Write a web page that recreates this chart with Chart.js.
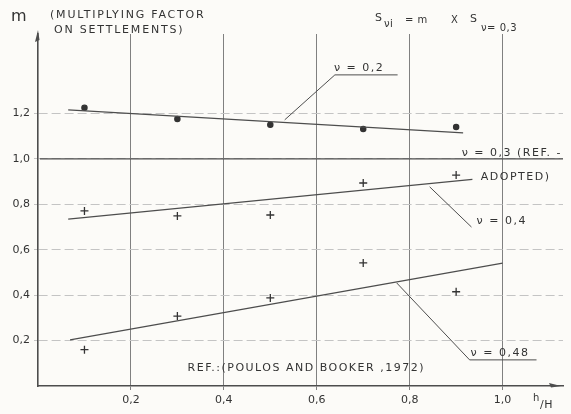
<!DOCTYPE html>
<html lang="en">
<head>
<meta charset="UTF-8">
<title>Multiplying factor on settlements</title>
<script src="https://cdn.jsdelivr.net/npm/chart.js"></script>
<style>
  html, body { margin: 0; padding: 0; background: #fcfbf8; }
  #wrap { width: 571px; height: 414px; position: relative; }
</style>
</head>
<body>
<div id="wrap"><canvas id="chart"></canvas></div>
<script>
// h/H of the computed points
const hOverH = [0.1, 0.3, 0.5, 0.7, 0.9];
// m for each Poisson's ratio
const m02  = [1.225, 1.176, 1.15, 1.132, 1.141];
const m04  = [0.771, 0.749, 0.753, 0.894, 0.929];
const m048 = [0.16, 0.308, 0.388, 0.542, 0.415];
// fitted straight lines: end points (h/H, m)
const fit02H  = [0.065, 0.915], fit02M  = [1.216, 1.115];
const fit04H  = [0.065, 0.935], fit04M  = [0.735, 0.91];
const fit048H = [0.069, 1.0],   fit048M = [0.203, 0.541];
// nu = 0,3 is the reference case, m = 1
const refH = [0.004, 1.13], refM = [1.0, 1.0];
const xTicks = [0.2, 0.4, 0.6, 0.8, 1.0];
const yTicks = [0.2, 0.4, 0.6, 0.8, 1.0, 1.2];

const INK = '#333';
const LINE = '#4d4d4d';
const FONT = '"DejaVu Sans", sans-serif';

const pts = (xs, ys) => xs.map((v, i) => ({ x: v, y: ys[i] }));

// leader lines from the curve labels to their curves
const leaders = [
  { h: [0.531, 0.639, 0.774], m: [1.172, 1.37, 1.37] },
  { h: [0.843, 0.933], m: [0.877, 0.70] },
  { h: [0.772, 0.929, 1.073], m: [0.454, 0.115, 0.115] }
];

// labels inside the plot, anchored in (h/H, m)
const plotLabels = [
  { text: 'ν = 0,2', h: 0.637, m: 1.40 },
  { text: 'ν = 0,3 (REF. -', h: 0.912, m: 1.026 },
  { text: 'ADOPTED)', h: 0.953, m: 0.921 },
  { text: 'ν = 0,4', h: 0.944, m: 0.727 },
  { text: 'ν = 0,48', h: 0.931, m: 0.143 },
  { text: 'REF.:(POULOS AND BOOKER ,1972)', h: 0.322, m: 0.079 }
];

const lineSet = (data, width) => ({
  data, showLine: true, pointRadius: 0, borderColor: LINE,
  borderWidth: width || 1.2, fill: false
});

const pointSet = (data, style) => ({
  data, showLine: false, pointStyle: style,
  pointRadius: style === 'cross' ? 4 : 2.6,
  pointBorderColor: '#333', pointBackgroundColor: '#333', pointBorderWidth: 1.3
});

const datasets = [
  lineSet(pts(refH, refM), 1.3),
  lineSet(pts(fit02H, fit02M)),
  lineSet(pts(fit04H, fit04M)),
  lineSet(pts(fit048H, fit048M)),
  pointSet(pts(hOverH, m02), 'circle'),
  pointSet(pts(hOverH, m04), 'cross'),
  pointSet(pts(hOverH, m048), 'cross')
];
leaders.forEach(l => datasets.push(lineSet(pts(l.h, l.m), 1)));

const inkPlugin = {
  id: 'ink',
  afterDraw(chart) {
    const { ctx, chartArea, scales: { x, y } } = chart;
    ctx.save();
    ctx.fillStyle = INK;
    ctx.textBaseline = 'middle';
    ctx.letterSpacing = '1.5px';
    ctx.font = '11px ' + FONT;
    plotLabels.forEach(l => {
      ctx.fillText(l.text, x.getPixelForValue(l.h), y.getPixelForValue(l.m));
    });

    // axis title
    ctx.font = '16px ' + FONT;
    ctx.letterSpacing = '0px';
    ctx.fillText('m', 11, 17);
    ctx.font = '11px ' + FONT;
    ctx.letterSpacing = '1.8px';
    ctx.fillText('(MULTIPLYING FACTOR', 50, 15);
    ctx.fillText('ON SETTLEMENTS)', 54, 30);

    // S_nu_i = m X S_nu=0,3
    ctx.letterSpacing = '0.5px';
    ctx.font = '11px ' + FONT;
    ctx.fillText('S', 375, 18);
    ctx.font = '10px ' + FONT;
    ctx.fillText('νi', 384, 24);
    ctx.font = '10px ' + FONT;
    ctx.fillText('= m', 405, 20);
    ctx.fillText('X', 451, 20);
    ctx.font = '11px ' + FONT;
    ctx.fillText('S', 470, 19);
    ctx.font = '10px ' + FONT;
    ctx.fillText('ν= 0,3', 481, 28);

    // h/H under the end of the x axis
    ctx.font = '10px ' + FONT;
    ctx.fillText('h', 533, 398);
    ctx.font = '11px ' + FONT;
    ctx.fillText('/H', 540, 405);

    // arrow heads on the axes
    ctx.fillStyle = LINE;
    const l = chartArea.left, t = chartArea.top;
    ctx.beginPath();
    ctx.moveTo(l, t - 4); ctx.lineTo(l - 3, t + 8); ctx.lineTo(l + 1.5, t + 6);
    ctx.closePath(); ctx.fill();
    const r = chartArea.right - 8, b = chartArea.bottom;
    ctx.beginPath();
    ctx.moveTo(r + 6, b); ctx.lineTo(r - 6, b - 3); ctx.lineTo(r - 4, b + 1.5);
    ctx.closePath(); ctx.fill();
    ctx.restore();
  }
};

new Chart(document.getElementById('chart'), {
  type: 'scatter',
  data: { datasets },
  plugins: [inkPlugin],
  options: {
    responsive: true,
    maintainAspectRatio: false,
    animation: false,
    layout: { padding: { top: 34, right: 8, left: 0, bottom: 0 } },
    plugins: { legend: { display: false }, tooltip: { enabled: false } },
    scales: {
      x: {
        type: 'linear', min: 0, max: 1.13,
        afterBuildTicks: s => { s.ticks = xTicks.map(v => ({ value: v })); },
        afterFit: s => { s.height = 28; },
        ticks: {
          color: INK, padding: 4, maxRotation: 0,
          font: { family: FONT, size: 11 },
          callback: v => v.toFixed(1).replace('.', ',')
        },
        grid: { color: '#808080', lineWidth: 1, tickLength: 4 },
        border: { display: true, color: LINE, width: 1.6 }
      },
      y: {
        type: 'linear', min: 0, max: 1.55,
        afterBuildTicks: s => { s.ticks = yTicks.map(v => ({ value: v })); },
        afterFit: s => { s.width = 38; },
        ticks: {
          color: INK, padding: 4,
          font: { family: FONT, size: 11 },
          callback: v => v.toFixed(1).replace('.', ',')
        },
        grid: { color: '#c4c4c4', lineWidth: 1, tickLength: 4 },
        border: { display: true, color: LINE, width: 1.6, dash: [9, 4] }
      }
    }
  }
});
</script>
</body>
</html>
